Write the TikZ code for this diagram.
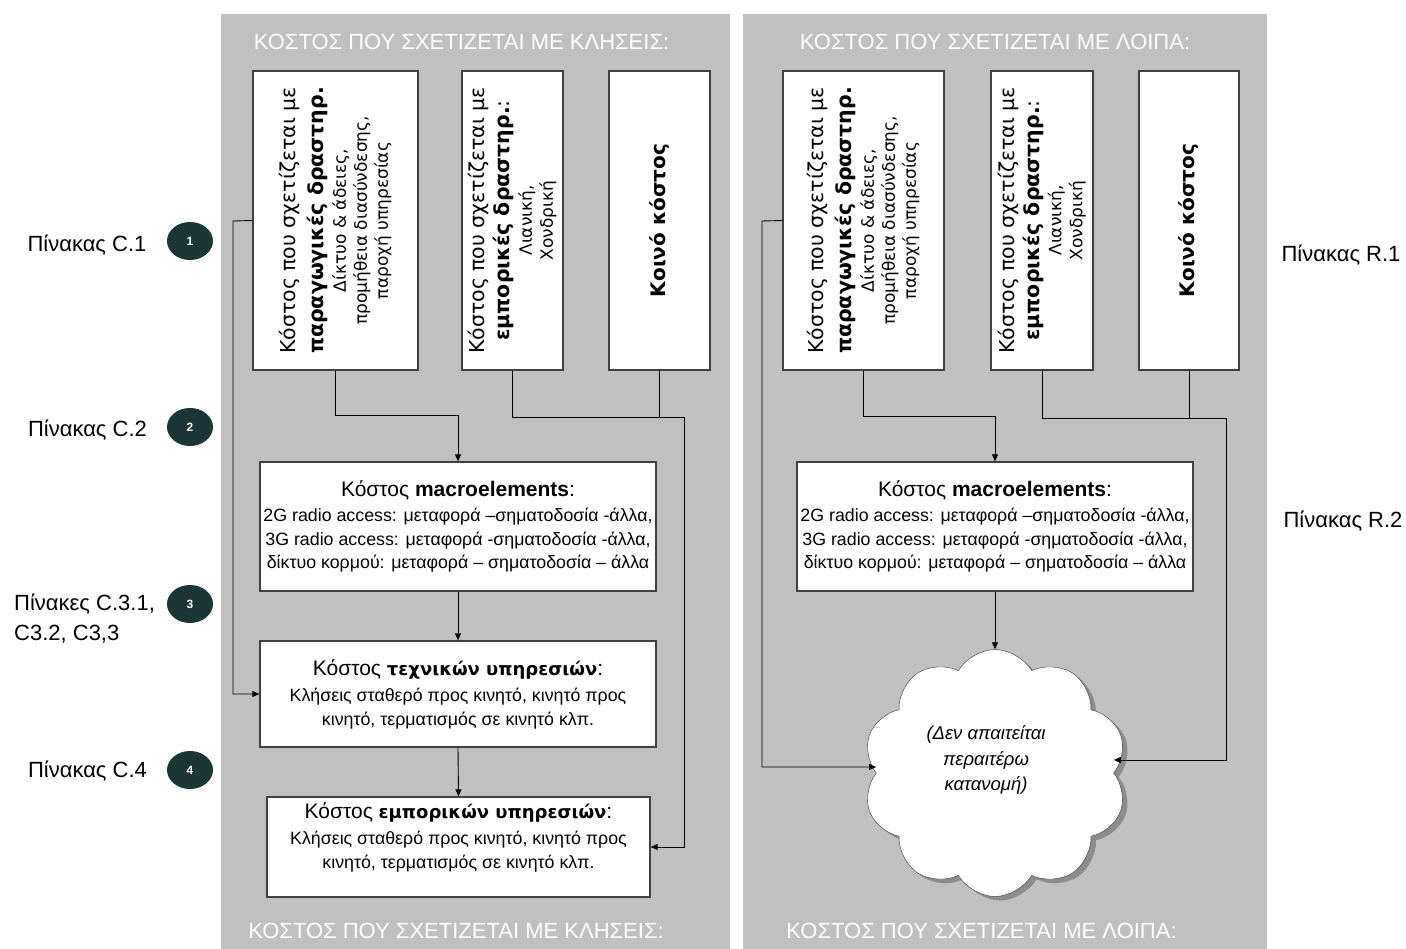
\documentclass[tikz,border=0pt]{standalone}
\usepackage{fontspec}
\usepackage{graphicx}
\setmainfont{Liberation Sans}
\newfontfamily\gothicfont{DejaVu Sans}
\usetikzlibrary{shapes.geometric,shapes.symbols,shadows,arrows.meta}
\definecolor{panelgray}{HTML}{C0C0C0}
\definecolor{badgegreen}{HTML}{1B3636}

\begin{document}
\begin{tikzpicture}[x=1pt, y=-1pt,
    >={Triangle[length=7pt,width=6pt]},
    panel/.style={fill=panelgray, draw=none},
    heading/.style={text=white, font=\fontsize{22}{26}\selectfont, inner sep=0pt},
    tallbox/.style={draw=black!75, line width=1.3pt, fill=white, minimum height=299pt, inner sep=0pt},
    widebox/.style={draw=black!75, line width=1.3pt, fill=white, minimum width=396pt, align=center, inner sep=0pt, font=\fontsize{17.8}{23.5}\selectfont},
    uptext/.style={rotate=90, align=center, inner sep=0pt, font=\gothicfont\fontsize{17}{21}\selectfont},
    badge/.style={ellipse, fill=badgegreen, text=white, minimum width=46pt, minimum height=38pt, inner sep=0pt, font=\bfseries\fontsize{12}{14}\selectfont},
    tablabel/.style={inner sep=0pt, font=\fontsize{22}{30}\selectfont},
    conn/.style={->, line width=0.9pt}
  ]
  \useasboundingbox (0,0) rectangle (1406,949);

  % the two grey panels
  \fill[panel] (221,14) rectangle (730,949);
  \fill[panel] (743,14) rectangle (1267,949);

  \node[heading] (hL) at (461.5,42) {ΚΟΣΤΟΣ ΠΟΥ ΣΧΕΤΙΖΕΤΑΙ ΜΕ ΚΛΗΣΕΙΣ:};
  \node[heading] (hLb) at (456,931) {ΚΟΣΤΟΣ ΠΟΥ ΣΧΕΤΙΖΕΤΑΙ ΜΕ ΚΛΗΣΕΙΣ:};
  \node[heading] (hR) at (995,42) {ΚΟΣΤΟΣ ΠΟΥ ΣΧΕΤΙΖΕΤΑΙ ΜΕ ΛΟΙΠΑ:};
  \node[heading] (hRb) at (981.5,931) {ΚΟΣΤΟΣ ΠΟΥ ΣΧΕΤΙΖΕΤΑΙ ΜΕ ΛΟΙΠΑ:};

  % left panel: calls
  \node[tallbox, minimum width=165pt] (pA) at (335.5,220.5) {};
  \node[uptext] (pAtext) at (pA.center) {{\fontsize{20.5}{28}\selectfont Κόστος που σχετίζεται με}\\[7pt]
    {\fontsize{20.5}{28}\selectfont\bfseries παραγωγικές δραστηρ.}\\[1pt]
    Δίκτυο \& άδειες,\\ προμήθεια διασύνδεσης,\\ παροχή υπηρεσίας};
  \node[tallbox, minimum width=101pt] (pB) at (512.5,220.5) {};
  \node[uptext] (pBtext) at (pB.center) {{\fontsize{20.5}{28}\selectfont Κόστος που σχετίζεται με}\\[4pt]
    {\fontsize{20.5}{28}\selectfont\bfseries εμπορικές δραστηρ.}{\fontsize{20.5}{28}\selectfont :}\\[1pt]
    Λιανική,\\ Χονδρική};
  \node[tallbox, minimum width=101pt] (pC) at (659.5,220.5) {};
  \node[uptext, font=\gothicfont\bfseries\fontsize{20}{24}\selectfont] (pCtext) at (pC.center) {Κοινό κόστος};

  \node[widebox, minimum height=129pt] (macro) at (458,526.5) {{\fontsize{21}{24}\selectfont Κόστος \textbf{macroelements}:}\\[2pt]
    2G radio access: μεταφορά –σηματοδοσία -άλλα,\\
    3G radio access: μεταφορά -σηματοδοσία -άλλα,\\
    δίκτυο κορμού: μεταφορά – σηματοδοσία – άλλα};
  \node[widebox, minimum height=106pt] (tech) at (458,694) {{\fontsize{21}{24}\selectfont Κόστος {\gothicfont\bfseries\fontsize{18}{22}\selectfont τεχνικών υπηρεσιών}:}\\[3pt]
    Κλήσεις σταθερό προς κινητό, κινητό προς\\
    κινητό, τερματισμός σε κινητό κλπ.};
  \node[widebox, minimum width=383pt, minimum height=100pt] (comm) at (458.5,847) {{\fontsize{21}{24}\selectfont Κόστος {\gothicfont\bfseries\fontsize{18}{22}\selectfont εμπορικών υπηρεσιών}:}\\[3pt]
    Κλήσεις σταθερό προς κινητό, κινητό προς\\
    κινητό, τερματισμός σε κινητό κλπ.\\ \mbox{}};

  \coordinate (lA) at (233,221);
  \coordinate (jA) at (458,415);
  \coordinate (jB) at (684,417);
  \draw[conn] (pA.west) -- (lA) |- (tech.west);
  \draw[conn] (pA.south) |- (jA) -- (macro.north);
  \draw[conn] (pB.south) |- (jB) |- (comm.east);
  \draw[line width=0.9pt] (pC.south) -- (pC.south |- jB);
  \draw[conn] (macro.south) -- (tech.north);
  \draw[conn] (tech.south) -- (comm.north);

  % right panel: the rest
  \node[tallbox, minimum width=161pt] (rA) at (863.5,220.5) {};
  \node[uptext] (rAtext) at (rA.center) {{\fontsize{20.5}{28}\selectfont Κόστος που σχετίζεται με}\\[7pt]
    {\fontsize{20.5}{28}\selectfont\bfseries παραγωγικές δραστηρ.}\\[1pt]
    Δίκτυο \& άδειες,\\ προμήθεια διασύνδεσης,\\ παροχή υπηρεσίας};
  \node[tallbox, minimum width=102pt] (rB) at (1042,220.5) {};
  \node[uptext] (rBtext) at (rB.center) {{\fontsize{20.5}{28}\selectfont Κόστος που σχετίζεται με}\\[4pt]
    {\fontsize{20.5}{28}\selectfont\bfseries εμπορικές δραστηρ.}{\fontsize{20.5}{28}\selectfont :}\\[1pt]
    Λιανική,\\ Χονδρική};
  \node[tallbox, minimum width=100pt] (rC) at (1189,220.5) {};
  \node[uptext, font=\gothicfont\bfseries\fontsize{20}{24}\selectfont] (rCtext) at (rC.center) {Κοινό κόστος};

  \node[widebox, minimum height=129pt] (rmacro) at (995,526.5) {{\fontsize{21}{24}\selectfont Κόστος \textbf{macroelements}:}\\[2pt]
    2G radio access: μεταφορά –σηματοδοσία -άλλα,\\
    3G radio access: μεταφορά -σηματοδοσία -άλλα,\\
    δίκτυο κορμού: μεταφορά – σηματοδοσία – άλλα};
  \node[cloud, cloud puffs=10, cloud puff arc=120, aspect=1.05, draw=black!80, fill=white,
    minimum width=264pt, minimum height=247pt, inner sep=0pt,
    drop shadow={shadow xshift=5pt, shadow yshift=-4pt, fill=black!45, opacity=1}] (cloud) at (995,773) {};
  \node[align=center, inner sep=0pt, font=\itshape\fontsize{18.5}{25.5}\selectfont] (cloudtext) at (986,760) {(Δεν απαιτείται\\ περαιτέρω\\ κατανομή)};

  \coordinate (rlA) at (762,221);
  \coordinate (rjA) at (995,416);
  \coordinate (rjB) at (1226,418);
  \draw[conn] (rA.west) -- (rlA) |- ([yshift=6pt]cloud.west);
  \draw[conn] (rA.south) |- (rjA) -- (rmacro.north);
  \draw[conn] (rB.south) |- (rjB) |- ([yshift=13pt]cloud.east);
  \draw[line width=0.9pt] (rC.south) -- (rC.south |- rjB);
  \draw[conn] (rmacro.south) -- (cloud.north);

  % table references
  \node[tablabel] (t1) at (87,245) {Πίνακας C.1};
  \node[tablabel] (t2) at (87.5,430) {Πίνακας C.2};
  \node[tablabel, anchor=west, align=left] (t3) at (14,619) {Πίνακες C.3.1,\\C3.2, C3,3};
  \node[tablabel] (t4) at (87.5,771) {Πίνακας C.4};
  \node[badge] (n1) at (190,241) {1};
  \node[badge] (n2) at (190,427) {2};
  \node[badge] (n3) at (190,604) {3};
  \node[badge] (n4) at (190,770) {4};
  \node[tablabel] (r1) at (1341,255) {Πίνακας R.1};
  \node[tablabel] (r2) at (1343,521) {Πίνακας R.2};
\end{tikzpicture}
\end{document}
